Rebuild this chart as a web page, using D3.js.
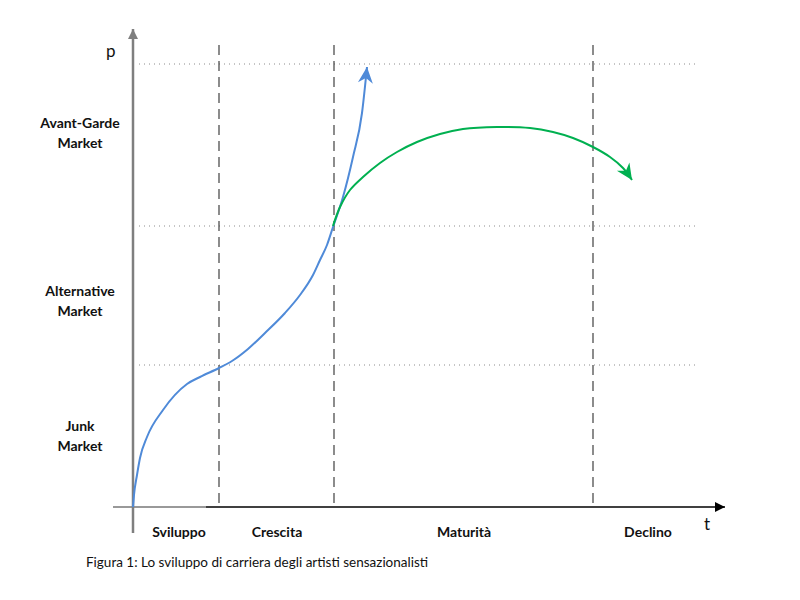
<!DOCTYPE html>
<html>
<head>
<meta charset="utf-8">
<script src="https://cdn.jsdelivr.net/npm/d3@7"></script>
<style>
    body { margin: 0; background: #fff; }
    svg { display: block; }
    .lbl { font-family: Lato, "Open Sans", sans-serif; font-weight: 700; font-size: 14px; fill: #111; }
    .axis-name { font-family: Lato, "Open Sans", sans-serif; font-size: 17px; fill: #111; }
    .caption { font-family: Lato, "Open Sans", sans-serif; font-size: 13.5px; fill: #111; }
</style>
</head>
<body>
<svg id="chart" width="800" height="600"></svg>
<script>
// market levels (p) and phase boundaries (t)
const levelNames = [["Junk", "Market"], ["Alternative", "Market"], ["Avant-Garde", "Market"]]
const levelLabelP = [7.2, 20.7, 37.5]
const levelLines = [14.2, 28.1, 44.3]

const phaseNames = ["Sviluppo", "Crescita", "Maturità", "Declino"]
const phaseLabelT = [4.6, 14.4, 33.1, 51.5]
const phaseBounds = [8.6, 20.1, 46.0]

// blue curve: career of the sensationalist artist
const blueT = [0, 0.1, 0.4, 0.7, 1.4, 3.0, 5.4, 6.7, 8.6, 9.9, 11.5, 13.2, 15.2, 16.7, 18.0, 18.7, 19.4, 20.0, 21.0, 22.0, 22.9, 23.4]
const blueP = [0, 1.2, 3.2, 4.9, 7.0, 9.7, 12.3, 13.0, 13.9, 14.6, 15.8, 17.4, 19.4, 21.2, 23.2, 24.7, 26.2, 28.0, 31.0, 35.0, 39.4, 44.0]

// green curve: maturity and decline
const greenT = [20.0, 20.7, 21.7, 23.0, 24.7, 26.4, 28.4, 30.7, 33.0, 36.4, 39.7, 42.0, 44.0, 46.0, 47.7, 49.0, 49.9]
const greenP = [28.1, 30.0, 31.7, 33.0, 34.4, 35.5, 36.5, 37.3, 37.8, 38.0, 37.9, 37.5, 36.9, 36.0, 35.0, 33.9, 32.7]

const caption = "Figura 1: Lo sviluppo di carriera degli artisti sensazionalisti"

const svg = d3.select("#chart")

const x = d3.scaleLinear().domain([0, 60]).range([133, 733])
const y = d3.scaleLinear().domain([0, 45]).range([507, 57])

const defs = svg.append("defs")

function triMarker(id, color) {
    defs.append("marker")
        .attr("id", id)
        .attr("viewBox", "-10 -5 10 10")
        .attr("refX", 0).attr("refY", 0)
        .attr("markerWidth", 10).attr("markerHeight", 10)
        .attr("markerUnits", "userSpaceOnUse")
        .attr("orient", "auto")
        .append("path")
        .attr("d", "M0,0L-10,-5L-10,5Z")
        .attr("fill", color)
}

function stealthMarker(id, color) {
    defs.append("marker")
        .attr("id", id)
        .attr("viewBox", "-17 -8 18 16")
        .attr("refX", 0).attr("refY", 0)
        .attr("markerWidth", 18).attr("markerHeight", 16)
        .attr("markerUnits", "userSpaceOnUse")
        .attr("orient", "auto")
        .append("path")
        .attr("d", "M0,0L-16,-7.5L-11,0L-16,7.5Z")
        .attr("fill", color)
}

triMarker("arrow-gray", "#7f7f7f")
triMarker("arrow-black", "#000")
stealthMarker("arrow-blue", "#4f8ad8")
stealthMarker("arrow-green", "#00b050")

// dotted level lines
svg.selectAll(".level-line")
    .data(levelLines)
    .enter().append("line")
    .attr("class", "level-line")
    .attr("x1", x(0.6)).attr("x2", x(56.4))
    .attr("y1", d => y(d)).attr("y2", d => y(d))
    .attr("stroke", "#8c8c8c")
    .attr("stroke-width", 1)
    .attr("stroke-dasharray", "1,4")

// dashed phase boundaries
svg.selectAll(".phase-line")
    .data(phaseBounds)
    .enter().append("line")
    .attr("class", "phase-line")
    .attr("x1", d => x(d)).attr("x2", d => x(d))
    .attr("y1", y(46.2)).attr("y2", y(0.2))
    .attr("stroke", "#404040")
    .attr("stroke-width", 1.2)
    .attr("stroke-dasharray", "10,6")

// x axis: gray stub then black with arrow
svg.append("line")
    .attr("x1", x(-2)).attr("x2", x(7.3))
    .attr("y1", y(0)).attr("y2", y(0))
    .attr("stroke", "#999").attr("stroke-width", 2)
svg.append("line")
    .attr("x1", x(7.3)).attr("x2", x(59.2))
    .attr("y1", y(0)).attr("y2", y(0))
    .attr("stroke", "#000").attr("stroke-width", 1.5)
    .attr("marker-end", "url(#arrow-black)")

// y axis
svg.append("line")
    .attr("x1", x(0)).attr("x2", x(0))
    .attr("y1", y(-2.6)).attr("y2", y(47.8))
    .attr("stroke", "#7f7f7f").attr("stroke-width", 2.5)
    .attr("marker-end", "url(#arrow-gray)")

const blueLine = d3.line()
    .x(d => x(d[0]))
    .y(d => y(d[1]))
    .curve(d3.curveMonotoneX)

const greenLine = d3.line()
    .x(d => x(d[0]))
    .y(d => y(d[1]))
    .curve(d3.curveCatmullRom.alpha(0.5))

svg.append("path")
    .datum(blueT.map((t, i) => [t, blueP[i]]))
    .attr("d", blueLine)
    .attr("fill", "none")
    .attr("stroke", "#4f8ad8")
    .attr("stroke-width", 2)
    .attr("marker-end", "url(#arrow-blue)")

svg.append("path")
    .datum(greenT.map((t, i) => [t, greenP[i]]))
    .attr("d", greenLine)
    .attr("fill", "none")
    .attr("stroke", "#00b050")
    .attr("stroke-width", 2)
    .attr("marker-end", "url(#arrow-green)")

// level labels
const lvl = svg.selectAll(".level-label")
    .data(levelNames)
    .enter().append("text")
    .attr("class", "lbl level-label")
    .attr("text-anchor", "middle")
    .attr("transform", (d, i) => `translate(80,${y(levelLabelP[i])})`)
lvl.selectAll("tspan")
    .data(d => d)
    .enter().append("tspan")
    .attr("x", 0)
    .attr("y", (d, i) => i === 0 ? -4 : 16)
    .text(d => d)

// phase labels
svg.selectAll(".phase-label")
    .data(phaseNames)
    .enter().append("text")
    .attr("class", "lbl phase-label")
    .attr("text-anchor", "middle")
    .attr("x", (d, i) => x(phaseLabelT[i]))
    .attr("y", 537)
    .text(d => d)

svg.append("text").attr("class", "axis-name")
    .attr("x", 106).attr("y", 57).text("p")
svg.append("text").attr("class", "axis-name")
    .attr("x", 704).attr("y", 530).text("t")

svg.append("text").attr("class", "caption")
    .attr("x", 86).attr("y", 567)
    .text(caption)
</script>
</body>
</html>
